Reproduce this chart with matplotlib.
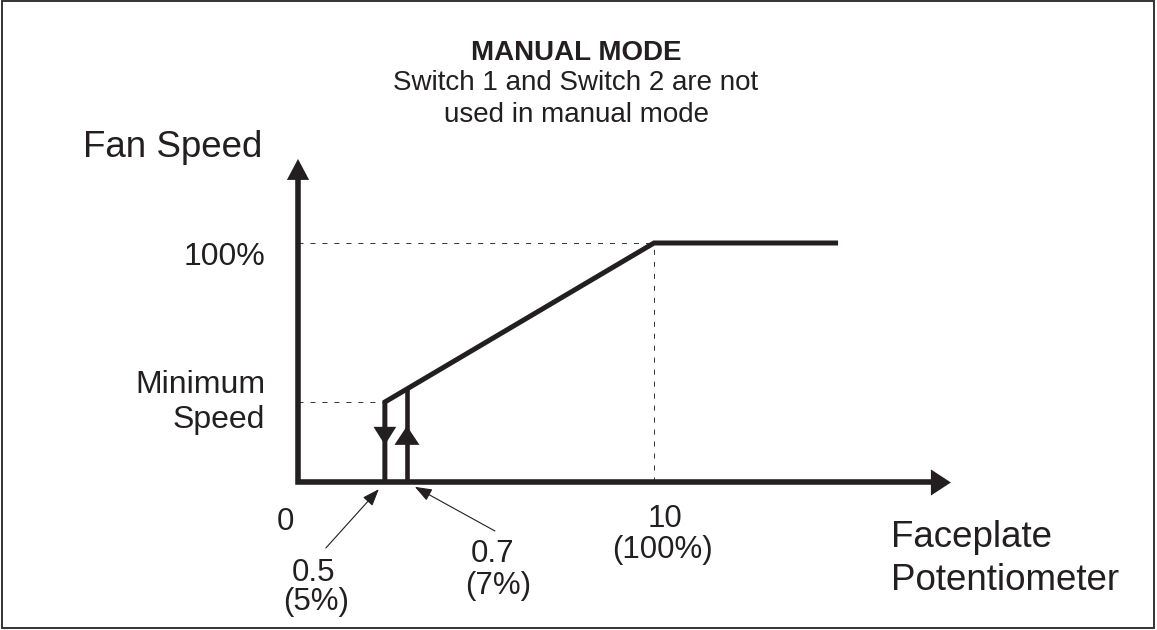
import matplotlib.pyplot as plt
from matplotlib.patches import Rectangle, ArrowStyle

plt.rcParams['font.family'] = ['Liberation Sans', 'DejaVu Sans']

INK = '#231f20'
DASH = '#3a3a3a'

# positions on the schematic (the drawing is not to scale)
x_off = 2.44      # line drawn for "0.5 (5%)"
x_on = 3.06       # line drawn for "0.7 (7%)"
x_full = 10       # "10 (100%)"
x_end = 15.17     # end of the flat part at 100 %
x_tip = 18.34     # tip of the x axis arrow
y_min = 33.6      # minimum speed
y_on = 39.0       # where the switch-on line meets the ramp
y_full = 100
y_tip = 135.1     # tip of the y axis arrow

curve_x = [x_off, x_off, x_full, x_end]
curve_y = [0, y_min, y_full, y_full]

fig = plt.figure(figsize=(11.57, 6.30), dpi=100)
ax = fig.add_axes([0, 0, 1, 1])
ax.set_xlim(-8.371, 24.129)
ax.set_ylim(-61.59, 201.46)
ax.axis('off')

# frame round the picture
fig.add_artist(Rectangle((2 / 1157, 2 / 630), 1152 / 1157, 627 / 630,
                         transform=fig.transFigure, fill=False,
                         ec='#333333', lw=1.4))

# helper lines
dash = dict(color=DASH, lw=0.75, linestyle=(0, (4.8, 6.7)))
ax.plot([0, x_full], [y_full, y_full], **dash)
ax.plot([x_full, x_full], [0, y_full], **dash)
ax.plot([0, x_off], [y_min, y_min], **dash)

# axes
ax.plot([0, 0, x_tip - 0.3], [y_tip - 4.5, 0, 0], color=INK, lw=4,
        solid_joinstyle='miter', solid_capstyle='butt')


def head(tip, start, hl, hw, ms=20):
    ax.annotate('', xy=tip, xytext=start,
                arrowprops=dict(arrowstyle=ArrowStyle('-|>', head_length=hl, head_width=hw),
                                mutation_scale=ms, lw=0, fc=INK, ec=INK,
                                shrinkA=0, shrinkB=0))


head((0, y_tip), (0, 0), 0.755, 0.40)
head((x_tip, 0), (0, 0), 0.72, 0.47)

# fan speed curve
ax.plot(curve_x, curve_y, color=INK, lw=3.6, solid_joinstyle='miter',
        solid_capstyle='butt')
ax.plot([x_on, x_on], [0, y_on], color=INK, lw=3.3, solid_capstyle='butt')
head((x_off, 15.7), (x_off, y_min), 0.65, 0.41)
head((x_on, 23.6), (x_on, 0), 0.68, 0.45)

# pointers to the switch points
thin = dict(arrowstyle=ArrowStyle('-|>', head_length=0.8, head_width=0.3),
            mutation_scale=13, lw=0.8, color=INK, shrinkA=0, shrinkB=6.5)
ax.annotate('', xy=(x_off, 0), xytext=(-59, -65.5), textcoords='offset pixels',
            arrowprops=thin)
ax.annotate('', xy=(x_on, 0), xytext=(88, -48.5), textcoords='offset pixels',
            arrowprops=thin)


def label(txt, anchor, dx, dy, size, ha='center', **kw):
    ax.annotate(txt, xy=anchor, xytext=(dx, dy), textcoords='offset pixels',
                ha=ha, va='baseline', fontsize=size, color=INK, **kw)


label('0', (0, 0), -13, -47.5, 22.5)
label('0.5', (x_off, 0), -71, -98.5, 22.5)
label('(5%)', (x_off, 0), -69, -128, 22.5)
label('0.7', (x_on, 0), 86, -79.5, 22.5)
label('(7%)', (x_on, 0), 91, -112, 22.5)
label('10', (x_full, 0), 11, -44.5, 22.5)
label('(100%)', (x_full, 0), 8, -76, 22.5)

label('100%', (0, y_full), -33, -22, 23, ha='right')
label('Minimum', (0, y_min), -33, 9, 23, ha='right')
label('Speed', (0, y_min), -33, -26, 23, ha='right')

label('Fan Speed', (0, y_tip), -125, 2, 26.5)
label('Faceplate', (x_tip, 0), -60, -64.5, 26.5, ha='left')
label('Potentiometer', (x_tip, 0), -60, -107.5, 26.5, ha='left')

# heading
fig.text(576 / 1157, 1 - 60 / 630, 'MANUAL MODE', ha='center', va='baseline',
         fontsize=20, fontweight='bold', color=INK)
fig.text(576 / 1157, 1 - 90 / 630, 'Switch 1 and Switch 2 are not', ha='center',
         va='baseline', fontsize=20, color=INK)
fig.text(576 / 1157, 1 - 122 / 630, 'used in manual mode', ha='center',
         va='baseline', fontsize=20, color=INK)

fig.savefig('out.png', dpi=100)
